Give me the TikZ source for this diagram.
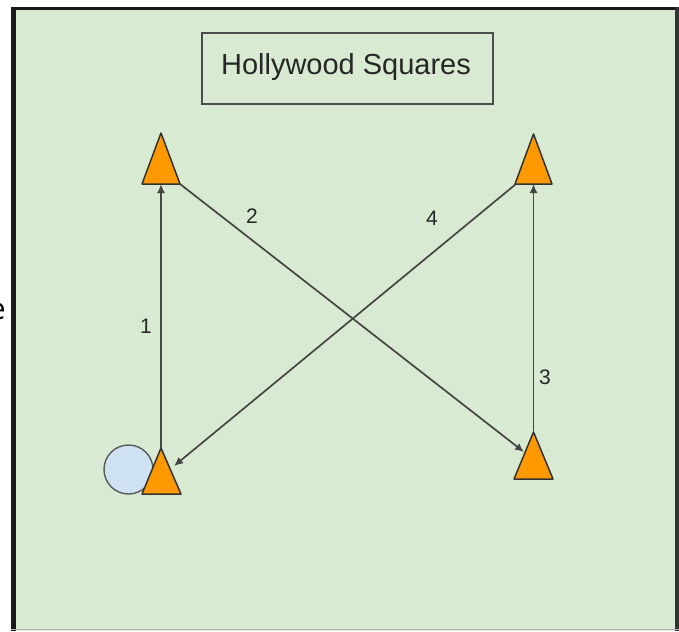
\documentclass[tikz,border=0pt]{standalone}
\usepackage{fontspec}
\setmainfont{Liberation Sans}
\newfontfamily\efont{Open Sans}
\usetikzlibrary{arrows.meta}
\definecolor{bggreen}{HTML}{D9EAD3}
\definecolor{coneorange}{HTML}{FF9900}
\definecolor{ballblue}{HTML}{CFE2F3}
\definecolor{linegray}{HTML}{454545}
\tikzset{
  cone/.style={fill=coneorange, draw=black!80, line width=1.5pt, line join=round},
  route/.style={draw=linegray, line width=1.7pt, -{Latex[length=9pt,width=8pt]}},
  numlabel/.style={font=\fontsize{21}{24}\selectfont, text=black!85, inner sep=0pt},
}
\begin{document}
\begin{tikzpicture}[x={(1pt,0)}, y={(0,-1pt)}]
\useasboundingbox (0,0) rectangle (679,631);
% field
\fill[bggreen] (11,7) rectangle (679,631);
\draw[black!90, line width=5pt] (13.5,7) -- (13.5,631);
\draw[black!90, line width=3pt] (11,8.5) -- (679,8.5);
\draw[black!80, line width=4pt] (676.5,7) -- (676.5,631);
\draw[black!30, line width=1pt] (11,629.5) -- (679,629.5);
% stray partial text
\node[anchor=east, inner sep=0pt, font=\efont\fontsize{30}{34}\selectfont] (stray) at (6,311) {e};
% title
\node[draw=black!70, line width=1.5pt, minimum width=291pt, minimum height=71pt, inner sep=0pt] (title) at (347.5,68.5) {};
\node[font=\fontsize{29}{34}\selectfont, text=black!85, inner sep=0pt] (titletext) at (346,67.5) {Hollywood Squares};
% ball
\node[circle, draw=black!65, line width=1.4pt, fill=ballblue, minimum size=49pt, inner sep=0pt] (ball) at (128.5,469.5) {};
% cones
\coordinate (TLapex) at (161,133);
\coordinate (TLbase) at (161,184);
\coordinate (TLright) at (180,184);
\coordinate (TRapex) at (533.5,134);
\coordinate (TRbase) at (533.5,184);
\coordinate (TRleft) at (516,184);
\coordinate (BRapex) at (533.5,432);
\coordinate (BRhit) at (524,452);
\coordinate (BLapex) at (161,448);
\coordinate (BLhit) at (174,466);
\draw[cone] (161,133) -- (180,184) -- (142,184) -- cycle;
\draw[cone] (533.5,134) -- (552,184) -- (515,184) -- cycle;
\draw[cone] (533.5,432) -- (553,479) -- (514,479) -- cycle;
\draw[cone] (161,448) -- (181,494) -- (142,494) -- cycle;
% routes
\draw[route] (BLapex) -- (TLbase);
\draw[route] (TLright) -- (BRhit);
\draw[route] (BRapex) -- (TRbase);
\draw[route] (TRleft) -- (BLhit);
% labels
\node[numlabel] (l1) at (146,326) {1};
\node[numlabel] (l2) at (252,216) {2};
\node[numlabel] (l3) at (545,377) {3};
\node[numlabel] (l4) at (432,218) {4};
\end{tikzpicture}
\end{document}
